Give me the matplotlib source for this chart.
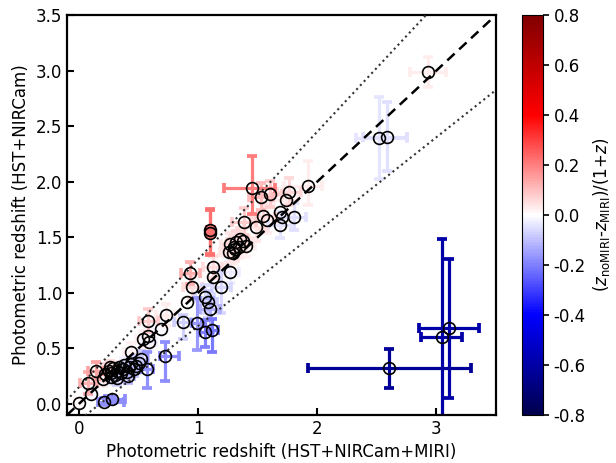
import numpy as np
import matplotlib
matplotlib.use("Agg")
import matplotlib.pyplot as plt
from matplotlib.colors import Normalize
from matplotlib.cm import ScalarMappable

# photo-z with MIRI (x) and without MIRI (y)
z_miri = [0.00, 0.10, 0.08, 0.14, 0.20, 0.21, 0.28, 0.22, 0.25, 0.27,
          0.29, 0.30, 0.32, 0.34, 0.35, 0.37, 0.38, 0.40, 0.42, 0.44,
          0.46, 0.48, 0.50, 0.27, 0.32, 0.41, 0.26, 0.44, 0.52, 0.57,
          0.72, 0.54, 0.58, 0.59, 0.58, 0.69, 0.73, 0.87, 0.91, 0.95,
          0.935, 0.99, 1.056, 1.08, 1.10, 1.062, 1.118, 1.124, 1.126, 1.194,
          1.264, 1.104, 1.104, 1.27, 1.30, 1.32, 1.35, 1.38, 1.40, 1.26,
          1.29, 1.31, 1.34, 1.385, 1.483, 1.548, 1.58, 1.455, 1.53, 1.604,
          1.69, 1.688, 1.70, 1.736, 1.764, 1.806, 1.919, 2.522, 2.586, 2.929,
          2.606, 3.047, 3.109]
z_nomiri = [0.01, 0.09, 0.19, 0.30, 0.22, 0.02, 0.04, 0.27, 0.30, 0.28,
            0.32, 0.26, 0.30, 0.33, 0.28, 0.31, 0.35, 0.29, 0.33, 0.36,
            0.31, 0.34, 0.37, 0.24, 0.23, 0.25, 0.33, 0.47, 0.40, 0.31,
            0.43, 0.58, 0.61, 0.56, 0.75, 0.67, 0.80, 0.74, 0.915, 1.056,
            1.176, 0.726, 0.966, 0.92, 0.85, 0.651, 0.666, 1.23, 1.146, 1.056,
            1.19, 1.566, 1.542, 1.44, 1.41, 1.46, 1.48, 1.47, 1.42, 1.37,
            1.36, 1.39, 1.41, 1.641, 1.59, 1.692, 1.656, 1.941, 1.866, 1.89,
            1.73, 1.611, 1.68, 1.836, 1.911, 1.686, 1.962, 2.391, 2.406, 2.985,
            0.321, 0.606, 0.681]
xerr_lo = [0.04, 0.05, 0.07, 0.06, 0.05, 0.05, 0.06, 0.05, 0.05, 0.05,
           0.05, 0.05, 0.05, 0.05, 0.05, 0.05, 0.05, 0.05, 0.05, 0.05,
           0.05, 0.05, 0.05, 0.05, 0.05, 0.05, 0.05, 0.06, 0.06, 0.05,
           0.04, 0.06, 0.06, 0.06, 0.08, 0.06, 0.08, 0.07, 0.08, 0.08,
           0.08, 0.04, 0.08, 0.08, 0.08, 0.05, 0.05, 0.08, 0.08, 0.08,
           0.08, 0.03, 0.03, 0.08, 0.08, 0.08, 0.08, 0.08, 0.08, 0.08,
           0.08, 0.08, 0.08, 0.10, 0.10, 0.10, 0.10, 0.24, 0.10, 0.10,
           0.10, 0.10, 0.10, 0.10, 0.10, 0.10, 0.20, 0.20, 0.20, 0.15,
           0.683, 0.18, 0.256]
xerr_hi = [0.04, 0.05, 0.07, 0.06, 0.05, 0.17, 0.11, 0.05, 0.05, 0.05,
           0.05, 0.05, 0.05, 0.05, 0.05, 0.05, 0.05, 0.05, 0.05, 0.05,
           0.05, 0.05, 0.05, 0.05, 0.05, 0.05, 0.05, 0.06, 0.06, 0.05,
           0.12, 0.06, 0.06, 0.06, 0.08, 0.06, 0.08, 0.07, 0.08, 0.08,
           0.08, 0.04, 0.08, 0.08, 0.08, 0.05, 0.05, 0.08, 0.08, 0.08,
           0.08, 0.03, 0.03, 0.08, 0.08, 0.08, 0.08, 0.08, 0.08, 0.08,
           0.08, 0.08, 0.08, 0.10, 0.10, 0.10, 0.10, 0.19, 0.10, 0.10,
           0.10, 0.10, 0.10, 0.10, 0.10, 0.10, 0.12, 0.23, 0.17, 0.15,
           0.688, 0.17, 0.25]
yerr_lo = [0.04, 0.05, 0.10, 0.08, 0.06, 0.03, 0.03, 0.06, 0.06, 0.06,
           0.06, 0.06, 0.06, 0.06, 0.06, 0.06, 0.06, 0.06, 0.06, 0.06,
           0.06, 0.06, 0.06, 0.06, 0.06, 0.06, 0.06, 0.08, 0.08, 0.17,
           0.22, 0.08, 0.08, 0.08, 0.10, 0.08, 0.10, 0.16, 0.10, 0.10,
           0.10, 0.24, 0.15, 0.15, 0.20, 0.14, 0.20, 0.10, 0.10, 0.24,
           0.10, 0.22, 0.20, 0.10, 0.10, 0.10, 0.10, 0.10, 0.10, 0.10,
           0.10, 0.10, 0.10, 0.12, 0.12, 0.12, 0.12, 0.23, 0.12, 0.12,
           0.12, 0.12, 0.12, 0.12, 0.12, 0.12, 0.17, 0.37, 0.31, 0.13,
           0.174, 0.76, 0.624]
yerr_hi = [0.04, 0.05, 0.10, 0.08, 0.06, 0.03, 0.03, 0.06, 0.06, 0.06,
           0.06, 0.06, 0.06, 0.06, 0.06, 0.06, 0.06, 0.06, 0.06, 0.06,
           0.06, 0.06, 0.06, 0.06, 0.06, 0.06, 0.06, 0.08, 0.08, 0.16,
           0.13, 0.08, 0.08, 0.08, 0.10, 0.08, 0.10, 0.06, 0.10, 0.10,
           0.10, 0.23, 0.10, 0.10, 0.10, 0.10, 0.10, 0.10, 0.10, 0.14,
           0.10, 0.19, 0.20, 0.10, 0.10, 0.10, 0.10, 0.10, 0.10, 0.10,
           0.10, 0.10, 0.10, 0.12, 0.12, 0.12, 0.12, 0.29, 0.12, 0.12,
           0.12, 0.12, 0.12, 0.12, 0.12, 0.12, 0.22, 0.37, 0.31, 0.14,
           0.171, 0.88, 0.624]
dz = [0.01, -0.01, 0.12, 0.14, 0.03, -0.17, -0.18, 0.05, 0.06, 0.02,
      0.03, -0.03, -0.02, 0.00, -0.05, -0.04, -0.02, -0.08, -0.06, -0.05,
      -0.10, -0.09, -0.08, -0.02, -0.07, -0.11, 0.06, 0.02, -0.08, -0.17,
      -0.18, 0.02, 0.02, -0.02, 0.08, -0.01, 0.03, -0.07, 0.00, 0.05,
      0.12, -0.16, -0.06, -0.08, -0.12, -0.20, -0.21, 0.05, 0.01, -0.06,
      -0.03, 0.22, 0.22, 0.04, 0.05, 0.06, 0.05, 0.04, 0.02, 0.04,
      0.03, 0.04, 0.03, 0.08, 0.04, 0.05, 0.03, 0.20, 0.10, 0.08,
      0.00, -0.04, 0.00, 0.03, 0.06, -0.05, 0.03, -0.04, -0.05, 0.03,
      -0.63, -0.60, -0.59]

plt.rcParams['font.family'] = ['DejaVu Sans']
plt.rcParams['font.size'] = 12

fig = plt.figure(figsize=(6.16, 4.63), dpi=100)
ax = fig.add_axes([67/616, 48/463, 429/616, 400/463])
cax = fig.add_axes([522/616, 48/463, 21/616, 400/463])

cmap = plt.get_cmap('seismic')
norm = Normalize(vmin=-0.8, vmax=0.8)

order = np.argsort(np.abs(np.array(dz)))
for i in order:
    ax.errorbar([z_miri[i]], [z_nomiri[i]],
                xerr=[[xerr_lo[i]], [xerr_hi[i]]],
                yerr=[[yerr_lo[i]], [yerr_hi[i]]],
                fmt='none', ecolor=cmap(norm(dz[i])), elinewidth=2.3,
                capsize=3.5, capthick=2.7, zorder=2)

ax.plot(z_miri, z_nomiri, 'o', mfc='none', mec='k', ms=8.5, mew=1.2, zorder=4)

xx = np.linspace(-0.2, 3.6, 100)
ax.plot(xx, xx, '--', color='k', lw=1.8, dashes=(4, 2.5), zorder=3)
ax.plot(xx, xx + 0.15 * (1 + xx), ':', color='#333333', lw=1.5, zorder=3)
ax.plot(xx, xx - 0.15 * (1 + xx), ':', color='#333333', lw=1.5, zorder=3)

ax.set_xlim(-0.1, 3.5)
ax.set_ylim(-0.1, 3.5)
ax.set_xticks([0, 1, 2, 3])
ax.set_yticks(np.arange(0, 3.51, 0.5))
ax.set_yticklabels(['%.1f' % v for v in np.arange(0, 3.51, 0.5)])
ax.tick_params(direction='in', length=5, width=1.5)
for s in ax.spines.values():
    s.set_linewidth(1.6)
ax.set_xlabel('Photometric redshift (HST+NIRCam+MIRI)')
ax.set_ylabel('Photometric redshift (HST+NIRCam)')

sm = ScalarMappable(norm=norm, cmap=cmap)
cb = fig.colorbar(sm, cax=cax)
cb.set_ticks(np.arange(-0.8, 0.81, 0.2))
cb.set_ticklabels(['%.1f' % v if abs(v) > 1e-9 else '0.0' for v in np.arange(-0.8, 0.81, 0.2)])
cb.ax.tick_params(width=1.2, length=4)
cb.set_label(r'($z_{\mathregular{noMIRI}}$-$z_{\mathregular{MIRI}}$)/(1+$z$)')

fig.savefig('out.png', dpi=100)
